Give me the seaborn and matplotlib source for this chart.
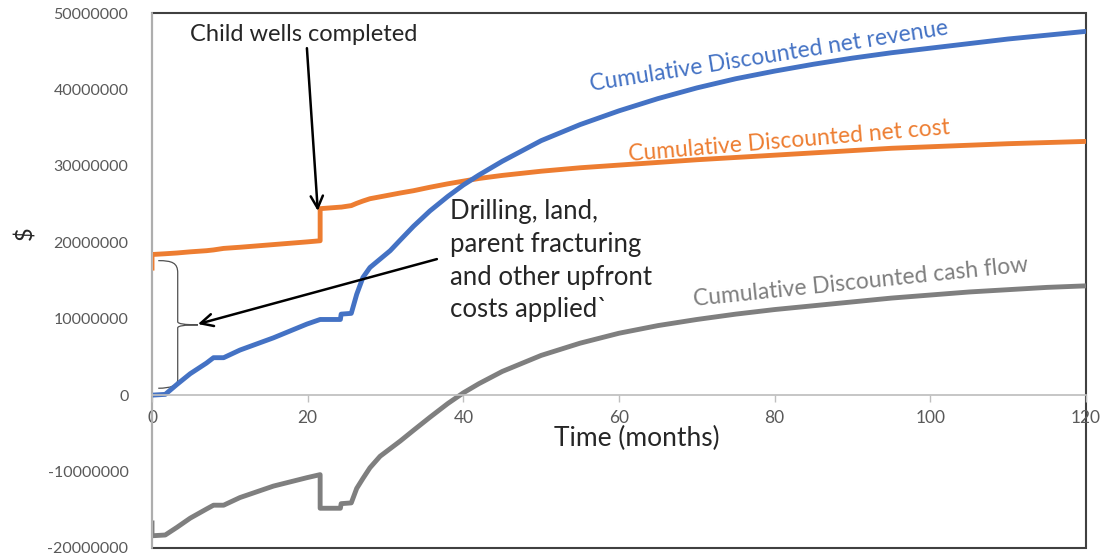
import matplotlib
matplotlib.use("Agg")
import pandas as pd
import matplotlib.pyplot as plt
import seaborn as sns
from matplotlib.path import Path
from matplotlib.patches import PathPatch, Rectangle

sns.set_theme(style="white")
plt.rcParams["font.family"] = ["Lato", "DejaVu Sans"]

# months
time = [0, 0, 1.7, 3.2, 4.9, 7.0, 7.9, 9.2, 11.3, 15.6, 19.9, 21.6, 21.6, 24.2, 24.3,
        25.6, 26.3, 27.1, 28.0, 29.3, 30.6, 31.9, 33.6, 35.7, 38, 40, 42, 45, 50, 55,
        60, 65, 70, 75, 80, 85, 90, 95, 100, 105, 110, 115, 120]
# dollars, millions
net_revenue = [0, 0, 0.1, 1.4, 2.8, 4.2, 4.9, 4.9, 5.9, 7.5, 9.3, 9.9, 9.9, 9.9, 10.6,
               10.7, 13.2, 15.4, 16.7, 17.8, 18.9, 20.3, 22.1, 24.1, 26.0, 27.5, 28.8,
               30.6, 33.3, 35.4, 37.2, 38.8, 40.2, 41.4, 42.4, 43.3, 44.1, 44.8, 45.4,
               46.0, 46.6, 47.1, 47.6]
net_cost = [16.3, 18.4, 18.5, 18.6, 18.75, 18.9, 19.0, 19.2, 19.35, 19.7, 20.05, 20.2,
            24.4, 24.6, 24.6, 24.8, 25.1, 25.4, 25.7, 25.95, 26.2, 26.45, 26.75, 27.2,
            27.65, 28.0, 28.35, 28.75, 29.3, 29.75, 30.1, 30.45, 30.8, 31.1, 31.4, 31.7,
            32.0, 32.3, 32.5, 32.7, 32.9, 33.05, 33.2]
cash_flow = [-16.4, -18.4, -18.3, -17.3, -16.1, -14.9, -14.4, -14.4, -13.4, -11.9, -10.8,
             -10.4, -14.8, -14.8, -14.2, -14.1, -12.2, -10.9, -9.5, -8.0, -7.0, -6.0,
             -4.6, -2.9, -1.1, 0.3, 1.5, 3.1, 5.2, 6.8, 8.1, 9.1, 9.9, 10.6, 11.2, 11.7,
             12.2, 12.7, 13.1, 13.5, 13.8, 14.1, 14.3]
y_ticks = [-20000000, -10000000, 0, 10000000, 20000000, 30000000, 40000000, 50000000]
x_ticks = [0, 20, 40, 60, 80, 100, 120]

df = pd.DataFrame({
    "time": time,
    "revenue": [v * 1e6 for v in net_revenue],
    "cost": [v * 1e6 for v in net_cost],
    "cash": [v * 1e6 for v in cash_flow],
})

BLUE, ORANGE, GREY = "#4472C4", "#ED7D31", "#7F7F7F"

fig = plt.figure(figsize=(11.04, 5.56), dpi=100)
ax = fig.add_axes([0.1377, 0.0144, 0.8460, 0.9622])

for col, c in [("cost", ORANGE), ("revenue", BLUE), ("cash", GREY)]:
    sns.lineplot(data=df, x="time", y=col, color=c, linewidth=3.5,
                 estimator=None, sort=False, ax=ax,
                 solid_joinstyle="round", solid_capstyle="butt")

ax.set_xlim(0, 120)
ax.set_ylim(-20000000, 50000000)
ax.set_yticks(y_ticks)
ax.set_yticklabels([str(v) for v in y_ticks])
ax.set_xticks(x_ticks)
ax.tick_params(axis="y", length=0, labelsize=11.5, labelcolor="#595959", pad=17)
ax.tick_params(axis="x", length=5, width=1, color="#BFBFBF", direction="out",
               labelsize=12.5, labelcolor="#595959", pad=6, bottom=True)

# x axis crosses at zero, frame drawn separately
ax.spines["bottom"].set_position(("data", 0))
ax.spines["bottom"].set_color("#BFBFBF")
ax.spines["left"].set_color("#BFBFBF")
ax.spines["top"].set_visible(False)
ax.spines["right"].set_visible(False)
ax.add_patch(Rectangle((0, 0), 1, 1, transform=ax.transAxes, fill=False,
                       edgecolor="#404040", linewidth=1.5, clip_on=False, zorder=0))

ax.set_xlabel("")
ax.set_ylabel("")
fig.text(0.577, 0.212, "Time (months)", fontsize=19, ha="center", va="center")
fig.text(0.023, 0.58, "$", fontsize=17, rotation=90, ha="center", va="center")

# line labels
ax.text(79.3, 44.3e6, "Cumulative Discounted net revenue", color=BLUE, fontsize=16.5,
        rotation=9, ha="center", va="center")
ax.text(81.8, 33.2e6, "Cumulative Discounted net cost", color=ORANGE, fontsize=16.5,
        rotation=4.8, ha="center", va="center")
ax.text(91.1, 14.8e6, "Cumulative Discounted cash flow", color=GREY, fontsize=16.5,
        rotation=5.9, ha="center", va="center")

# annotations
ax.text(19.5, 47.2e6, "Child wells completed", fontsize=17, ha="center", va="center")
ax.annotate("", xy=(21.3, 24.1e6), xytext=(19.9, 45.4e6),
            arrowprops=dict(arrowstyle="->", color="black", lw=1.8,
                            mutation_scale=22, shrinkA=0, shrinkB=0))
ax.annotate("", xy=(5.9, 9.3e6), xytext=(36.6, 17.8e6),
            arrowprops=dict(arrowstyle="->", color="black", lw=1.8,
                            mutation_scale=22, shrinkA=0, shrinkB=0))
ax.text(38.3, 25.6e6, "Drilling, land,\nparent fracturing\nand other upfront\ncosts applied`",
        fontsize=18.5, ha="left", va="top", linespacing=1.38)

# curly brace marking the upfront costs
brace = Path(
    [(0.8, 17.6e6), (2.6, 17.6e6), (3.3, 17.3e6), (3.3, 16.0e6),
     (3.3, 9.6e6), (3.3, 9.2e6), (5.9, 9.2e6),
     (3.3, 9.2e6), (3.3, 8.8e6), (3.3, 8.0e6),
     (3.3, 2.0e6), (3.3, 0.9e6), (0.8, 0.9e6)],
    [Path.MOVETO, Path.CURVE4, Path.CURVE4, Path.CURVE4,
     Path.LINETO, Path.CURVE3, Path.CURVE3,
     Path.CURVE3, Path.CURVE3, Path.LINETO,
     Path.LINETO, Path.CURVE3, Path.CURVE3])
ax.add_patch(PathPatch(brace, fill=False, edgecolor="#505050", linewidth=0.9))

fig.savefig("out.png", dpi=100)
